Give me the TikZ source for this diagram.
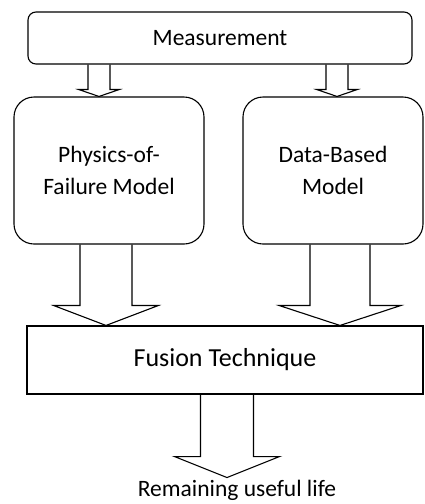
\documentclass[tikz,border=0pt]{standalone}
\usepackage{fontspec}
\setmainfont{Carlito}
\usetikzlibrary{positioning,calc}

% hollow block arrow: from, to, shaft width, head width, head length
\newcommand{\fatarrow}[5]{%
  \draw[fat] let \p1=(#1), \p2=(#2) in
    (\x1-#3/2,\y1) -- (\x1-#3/2,\y2+#5) -- (\x1-#4/2,\y2+#5) -- (\x1,\y2)
    -- (\x1+#4/2,\y2+#5) -- (\x1+#3/2,\y2+#5) -- (\x1+#3/2,\y1);
}

\begin{document}
\begin{tikzpicture}[x=1pt,y=-1pt,
    box/.style={draw,line width=1.1pt,align=center,inner sep=0pt,font=\fontsize{23.5}{32}\selectfont},
    rbox/.style={box,rounded corners=20pt,minimum height=147pt},
    fat/.style={draw,line width=1.1pt,line join=miter}
]
    \useasboundingbox (0,0) rectangle (424,504);

    \node[box,rounded corners=8pt,minimum width=384pt,minimum height=52pt] (meas) at (220,38) {Measurement};
    \node[rbox,minimum width=190pt] (pof) at (109,170.5) {Physics-of-\\Failure Model};
    \node[rbox,minimum width=180pt] (dbm) at (333,170.5) {Data-Based\\Model};
    \node[box,minimum width=396pt,minimum height=68pt,font=\fontsize{26}{30}\selectfont] (fusion) at (225,360) {Fusion Technique};
    \coordinate (tip) at ($(fusion.south)+(0,83)$);
    \node[font=\fontsize{23.5}{30}\selectfont,inner sep=0pt] (rul) at (237,490) {Remaining useful life};

    \fatarrow{$(meas.south)+(-121,0)$}{pof.north}{22pt}{41pt}{7pt}
    \fatarrow{$(meas.south)+(117,0)$}{dbm.north}{22pt}{41pt}{7pt}
    \fatarrow{$(pof.south)+(-3,0)$}{fusion.north}{52pt}{105pt}{20pt}
    \fatarrow{$(dbm.south)+(7,0)$}{fusion.north}{60pt}{122pt}{20pt}
    \fatarrow{$(fusion.south)+(2,0)$}{tip}{53pt}{105pt}{21pt}
\end{tikzpicture}
\end{document}
